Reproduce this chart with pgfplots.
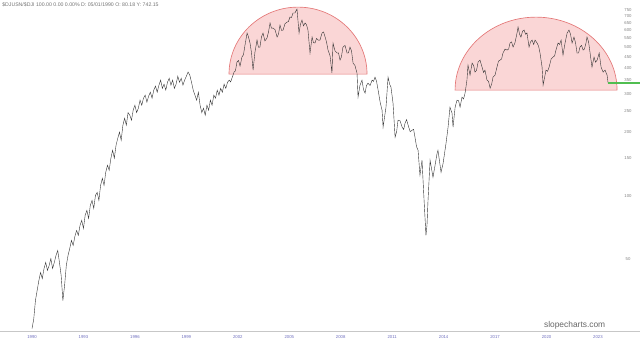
\documentclass[border=0pt]{standalone}
\usepackage{pgfplots}
\pgfplotsset{compat=1.18}
\usepackage{pgfplotstable}
\usepackage{fontspec}
\setmainfont{Liberation Sans}
\pgfdeclarelayer{background}
\pgfsetlayers{background,main}
\definecolor{domefill}{RGB}{250,214,214}
\definecolor{domeedge}{RGB}{228,120,120}
\definecolor{lastgreen}{RGB}{80,190,80}
\definecolor{xlab}{RGB}{110,110,190}
\definecolor{ylab}{RGB}{130,130,130}
\pgfplotstableread{
year value
1990.0 23.6
1990.1 26.1
1990.2 32.0
1990.3 35.7
1990.4 39.8
1990.5 43.4
1990.6 40.6
1990.7 45.3
1990.8 48.4
1990.9 44.4
1991.0 46.8
1991.1 50.5
1991.2 45.3
1991.3 48.4
1991.4 52.2
1991.5 55.1
1991.6 48.4
1991.7 42.0
1991.8 32.0
1991.9 37.7
1992.0 46.8
1992.1 52.2
1992.2 56.3
1992.3 61.5
1992.4 58.2
1992.5 64.2
1992.6 68.5
1992.7 64.9
1992.8 72.4
1992.9 76.4
1993.0 70.0
1993.1 80.7
1993.2 85.2
1993.3 78.0
1993.4 89.9
1993.5 94.9
1993.6 87.0
1993.7 100.2
1993.8 103.5
1993.9 94.9
1994.0 111.7
1994.1 120.6
1994.2 111.7
1994.3 128.8
1994.4 138.9
1994.5 131.6
1994.6 150.0
1994.7 163.5
1994.8 150.0
1994.9 172.6
1995.0 186.0
1995.1 199.0
1995.2 182.3
1995.3 214.5
1995.4 231.5
1995.5 214.5
1995.6 246.0
1995.7 239.2
1995.8 226.5
1995.9 252.5
1996.0 266.6
1996.1 246.0
1996.2 258.0
1996.3 281.5
1996.4 266.6
1996.5 287.6
1996.6 297.3
1996.7 275.5
1996.8 294.0
1996.9 307.0
1997.0 287.6
1997.1 313.9
1997.2 328.0
1997.3 307.0
1997.4 331.4
1997.5 349.9
1997.6 320.0
1997.7 335.0
1997.8 313.9
1997.9 342.0
1998.0 357.0
1998.1 331.4
1998.2 349.9
1998.3 320.0
1998.4 335.0
1998.5 365.0
1998.6 342.0
1998.7 357.0
1998.8 331.4
1998.9 349.9
1999.0 365.0
1999.1 382.0
1999.2 369.5
1999.3 342.0
1999.4 313.9
1999.5 297.3
1999.6 281.5
1999.7 307.0
1999.8 266.6
1999.9 246.0
2000.0 258.0
2000.1 239.2
2000.2 266.6
2000.3 252.5
2000.4 281.5
2000.5 266.6
2000.6 297.3
2000.7 287.6
2000.8 313.9
2000.9 297.3
2001.0 320.0
2001.1 307.0
2001.2 335.0
2001.3 320.0
2001.4 342.0
2001.5 349.9
2001.58 343.0
2001.66 357.6
2001.78 381.7
2001.86 387.0
2001.95 425.6
2002.04 433.0
2002.13 407.4
2002.24 449.3
2002.33 461.0
2002.42 511.9
2002.54 583.2
2002.62 560.0
2002.71 523.2
2002.80 470.0
2002.89 390.1
2003.00 474.4
2003.12 540.4
2003.20 500.0
2003.29 500.9
2003.38 560.0
2003.47 583.2
2003.58 535.0
2003.70 552.4
2003.79 590.0
2003.88 650.2
2003.96 615.0
2004.05 615.8
2004.17 605.0
2004.29 558.4
2004.37 575.0
2004.46 636.1
2004.55 600.0
2004.64 602.5
2004.75 645.0
2004.87 657.3
2004.95 660.0
2005.04 694.0
2005.13 690.0
2005.22 724.9
2005.33 725.0
2005.45 757.0
2005.57 583.2
2005.65 640.0
2005.74 671.6
2005.83 630.0
2005.92 650.2
2006.00 640.0
2006.09 602.5
2006.21 469.3
2006.33 558.4
2006.41 525.0
2006.50 523.2
2006.59 550.0
2006.68 540.4
2006.79 540.0
2006.91 583.2
2007.00 590.0
2007.09 558.4
2007.17 530.0
2007.26 484.8
2007.38 455.0
2007.49 377.6
2007.55 523.2
2007.67 480.0
2007.79 469.3
2007.87 470.0
2007.96 434.8
2008.04 450.0
2008.13 500.9
2008.25 510.0
2008.37 469.3
2008.45 470.0
2008.54 500.9
2008.63 480.0
2008.72 421.0
2008.83 410.0
2008.95 377.6
2009.01 290.9
2009.12 330.0
2009.24 349.9
2009.33 315.0
2009.42 303.8
2009.50 330.0
2009.59 338.7
2009.71 330.0
2009.83 349.9
2009.91 345.0
2010.00 361.5
2010.09 345.0
2010.18 313.9
2010.30 275.0
2010.41 252.5
2010.47 210.0
2010.64 260.9
2010.76 361.5
2010.85 335.0
2010.93 324.3
2011.05 272.5
2011.17 188.3
2011.26 200.0
2011.34 226.5
2011.46 225.0
2011.58 210.0
2011.67 205.0
2011.75 219.3
2011.84 228.0
2011.93 214.5
2012.05 200.0
2012.16 203.2
2012.25 205.0
2012.33 188.3
2012.42 170.0
2012.51 163.5
2012.62 124.6
2012.74 146.7
2012.86 94.9
2012.97 64.9
2013.03 72.4
2013.09 94.9
2013.21 146.7
2013.38 121.9
2013.62 158.3
2013.67 163.5
2013.85 128.7
2013.97 142.0
2014.14 176.4
2014.26 210.0
2014.37 260.9
2014.49 244.4
2014.55 210.0
2014.67 260.9
2014.78 281.5
2014.87 280.0
2014.96 260.9
2015.07 290.9
2015.16 285.0
2015.25 303.8
2015.36 349.9
2015.42 411.8
2015.54 369.5
2015.66 421.0
2015.75 410.0
2015.83 381.7
2015.92 390.0
2016.01 425.6
2016.12 435.0
2016.24 403.0
2016.33 380.0
2016.41 390.1
2016.53 349.9
2016.62 345.0
2016.71 320.8
2016.80 335.0
2016.88 361.5
2017.00 370.0
2017.11 403.0
2017.20 430.0
2017.29 434.8
2017.38 440.0
2017.46 469.3
2017.58 490.0
2017.70 484.8
2017.79 490.0
2017.87 523.2
2017.96 530.0
2018.05 500.9
2018.16 525.0
2018.28 583.2
2018.34 622.6
2018.43 575.0
2018.51 558.4
2018.60 595.0
2018.69 602.5
2018.78 575.0
2018.86 583.2
2018.98 500.9
2019.07 530.0
2019.16 540.4
2019.25 515.0
2019.33 540.4
2019.45 523.2
2019.54 505.0
2019.62 469.3
2019.74 403.0
2019.80 331.4
2019.97 390.1
2020.06 385.0
2020.15 403.0
2020.27 440.0
2020.38 449.3
2020.47 455.0
2020.55 484.8
2020.67 523.2
2020.76 515.0
2020.85 540.4
2020.96 459.1
2021.08 523.2
2021.20 583.2
2021.31 602.5
2021.40 575.0
2021.49 523.2
2021.60 558.4
2021.69 525.0
2021.78 469.3
2021.87 470.0
2021.95 500.9
2022.04 510.0
2022.13 484.8
2022.21 490.0
2022.30 523.2
2022.36 558.4
2022.45 530.0
2022.54 469.3
2022.65 403.0
2022.77 449.3
2022.86 425.0
2022.95 434.8
2023.07 469.3
2023.18 403.0
2023.30 381.7
2023.41 390.1
2023.53 369.5
2023.59 338.7
}\ratio
\begin{document}
\begin{tikzpicture}
\useasboundingbox (0,-9pt) rectangle (480pt,248.25pt);
\begin{axis}[
  at={(0,0)}, anchor=south west,
  scale only axis,
  width=480pt, height=248.25pt,
  ymode=log,
  xmin=1988.134, xmax=2025.45,
  ymin=23.0, ymax=834.7,
  axis line style={draw=none},
  tick style={draw=none},
  xticklabel pos=lower,
  yticklabel pos=right,
  xtick={1990,1993,1996,1999,2002,2005,2008,2011,2014,2017,2020,2023},
  xticklabels={1990,1993,1996,1999,2002,2005,2008,2011,2014,2017,2020,2023},
  ytick={50,100,150,200,250,300,350,400,450,500,550,600,650,700,750},
  yticklabels={50,100,150,200,250,300,350,400,450,500,550,600,650,700,750},
  xticklabel style={font=\fontsize{3.2}{3.6}\selectfont, text=xlab},
  yticklabel style={font=\fontsize{3.2}{3.6}\selectfont, text=ylab, anchor=center, xshift=-9pt},
  clip=false,
]
\coordinate (c1) at (axis cs:2005.51,373.5);
\coordinate (c2) at (axis cs:2019.39,313.9);
\addplot[black!80, line width=0.3pt] table[x=year, y=value] {\ratio};
\addplot[draw=lastgreen, line width=1pt, mark=none] coordinates {(2023.59,338.7) (2025.45,338.7)};
\end{axis}
\begin{pgfonlayer}{background}
\filldraw[fill=domefill, draw=domeedge, line width=0.5pt] ([xshift=-51.75pt]c1) arc[start angle=180, end angle=0, x radius=51.75pt, y radius=50.25pt] -- cycle;
\filldraw[fill=domefill, draw=domeedge, line width=0.5pt] ([xshift=-60.75pt]c2) arc[start angle=180, end angle=0, x radius=60.75pt, y radius=54.75pt] -- cycle;
\end{pgfonlayer}
\draw[black!22, line width=0.6pt] (0,0) -- (480pt,0);
\node[anchor=west, font=\fontsize{3.9}{4.4}\selectfont, text=black!55, inner sep=0pt] at (1.5pt,244.5pt) {\$DJUSN/\$DJI 100.00 0.00 0.00\% D: 05/01/1990 O: 80.18 Y: 742.15};
\node[font=\fontsize{6.3}{7}\selectfont, text=black!60, inner sep=0pt] at (431pt,4.5pt) {slopecharts.com};
\end{tikzpicture}
\end{document}
